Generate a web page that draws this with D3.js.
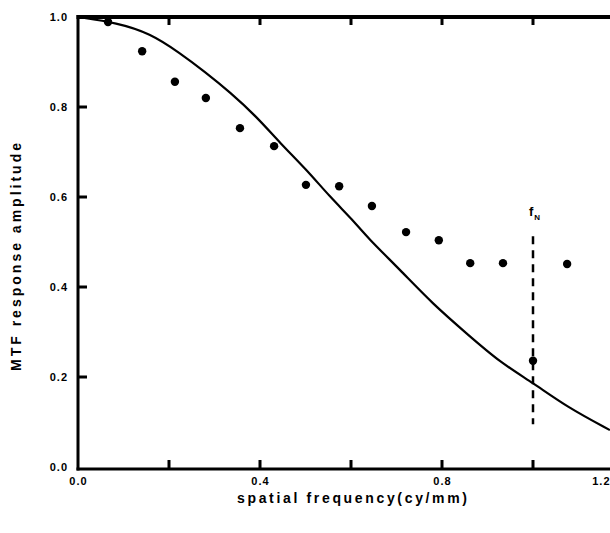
<!DOCTYPE html>
<html>
<head>
<meta charset="utf-8">
<script src="https://cdn.jsdelivr.net/npm/d3@7/dist/d3.min.js"></script>
<style>
  html, body { margin: 0; padding: 0; background: #fff; }
  svg { display: block; }
  text { font-family: "Liberation Sans", Arial, sans-serif; font-weight: bold; fill: #000; }
</style>
</head>
<body>
<svg id="chart" width="610" height="533"></svg>
<script>
// Measured MTF response (dots)
const measuredFreq = [0.066, 0.141, 0.213, 0.281, 0.356, 0.431, 0.501, 0.574, 0.646, 0.721, 0.793, 0.862, 0.934, 1.0, 1.075];
const measuredAmp  = [0.989, 0.924, 0.856, 0.820, 0.753, 0.713, 0.627, 0.624, 0.580, 0.522, 0.504, 0.453, 0.453, 0.236, 0.451];

// Theoretical MTF curve (solid line)
const curveFreq = [0, 0.086, 0.158, 0.224, 0.279, 0.334, 0.393, 0.444, 0.503, 0.554, 0.604, 0.635, 0.708, 0.780, 0.855, 0.927, 1.0, 1.075, 1.169];
const curveAmp  = [1.0, 0.987, 0.964, 0.920, 0.878, 0.833, 0.778, 0.720, 0.660, 0.600, 0.549, 0.511, 0.438, 0.362, 0.296, 0.233, 0.187, 0.133, 0.082];

// Nyquist frequency marker
const nyquistFreq = 1.0;
const nyquistSpan = [0.095, 0.513];

// Axis ticks
const xTicks = [0, 0.2, 0.4, 0.6, 0.8, 1.0, 1.2];
const xTickLabels = ["0.0", "", "0.4", "", "0.8", "", "1.2"];
const yTicks = [0, 0.2, 0.4, 0.6, 0.8, 1.0];
const yTickLabels = ["0.0", "0.2", "0.4", "0.6", "0.8", "1.0"];

const svg = d3.select("#chart");
const m = { left: 78, right: 610, top: 17, bottom: 467 };
const axisY = m.bottom + 2;

const x = d3.scaleLinear().domain([0, 1]).range([m.left, 533]);
const y = d3.scaleLinear().domain([0, 1]).range([m.bottom, m.top]);

// Clip so the curve stops at the page edge
svg.append("defs").append("clipPath").attr("id", "plotClip")
  .append("rect").attr("x", m.left).attr("y", 0).attr("width", m.right - m.left).attr("height", m.bottom + 5);

// Inward tick marks on bottom, top and left, drawn as small rectangles
const innerX = xTicks.filter(d => d > 0 && x(d) < m.right);
const innerY = yTicks.filter(d => d > 0 && d < 1);
svg.selectAll("rect.xb").data(innerX).join("rect").attr("class", "xb")
  .attr("x", d => x(d) - 1.5).attr("y", axisY - 9).attr("width", 3).attr("height", 9).attr("fill", "#000");
svg.selectAll("rect.xt").data(innerX).join("rect").attr("class", "xt")
  .attr("x", d => x(d) - 1.5).attr("y", m.top).attr("width", 3).attr("height", 8).attr("fill", "#000");
svg.selectAll("rect.yl").data(innerY).join("rect").attr("class", "yl")
  .attr("x", m.left).attr("y", d => y(d) - 1.5).attr("width", 9).attr("height", 3).attr("fill", "#000");

// Axes frame: left, bottom and top lines
svg.append("rect").attr("x", m.left - 1.5).attr("y", m.top - 2).attr("width", 3).attr("height", axisY - m.top + 3.5).attr("fill", "#000");
svg.append("rect").attr("x", m.left - 1.5).attr("y", axisY - 1.5).attr("width", m.right - m.left + 1.5).attr("height", 3).attr("fill", "#000");
svg.append("rect").attr("x", m.left - 1.5).attr("y", m.top - 2).attr("width", m.right - m.left + 1.5).attr("height", 4).attr("fill", "#000");

// Tick labels
const xAxisBottom = d3.axisBottom(x).tickValues(xTicks).tickSize(0).tickPadding(8)
  .tickFormat((d, i) => xTickLabels[i]);
const gxb = svg.append("g").attr("transform", `translate(0,${axisY})`).call(xAxisBottom);
gxb.select(".domain").remove();
gxb.selectAll(".tick line").remove();
gxb.selectAll(".tick text").attr("font-size", 11).attr("letter-spacing", 1)
  .style("font-family", "'Liberation Sans', Arial, sans-serif").style("font-weight", "bold");
// the last label sits at the page edge; keep it on the page
gxb.selectAll(".tick text").filter(d => d === 1.2).attr("text-anchor", "end").attr("x", m.right - x(1.2));

const yAxis = d3.axisLeft(y).tickValues(yTicks).tickSize(0).tickPadding(10)
  .tickFormat((d, i) => yTickLabels[i]);
const gy = svg.append("g").attr("transform", `translate(${m.left},0)`).call(yAxis);
gy.select(".domain").remove();
gy.selectAll(".tick line").remove();
gy.selectAll(".tick text").attr("font-size", 11).attr("letter-spacing", 1)
  .style("font-family", "'Liberation Sans', Arial, sans-serif").style("font-weight", "bold");

// Theoretical curve
const line = d3.line().x(d => x(d[0])).y(d => y(d[1])).curve(d3.curveBasis);
svg.append("path")
  .datum(d3.zip(curveFreq, curveAmp))
  .attr("clip-path", "url(#plotClip)")
  .attr("d", line)
  .attr("fill", "none").attr("stroke", "#000").attr("stroke-width", 2.2);

// Nyquist dashed line
svg.append("line")
  .attr("x1", x(nyquistFreq)).attr("x2", x(nyquistFreq))
  .attr("y1", y(nyquistSpan[1])).attr("y2", y(nyquistSpan[0]))
  .attr("stroke", "#000").attr("stroke-width", 2.5).attr("stroke-dasharray", "8,6");

const fLabel = svg.append("text")
  .attr("x", x(nyquistFreq) - 4).attr("y", y(nyquistSpan[1]) - 20)
  .attr("font-size", 13);
fLabel.append("tspan").text("f");
fLabel.append("tspan").attr("font-size", 8).attr("dy", 4).attr("dx", 1).text("N");

// Measured points
svg.selectAll("circle.meas")
  .data(d3.zip(measuredFreq, measuredAmp))
  .join("circle").attr("class", "meas")
  .attr("cx", d => x(d[0])).attr("cy", d => y(d[1])).attr("r", 4.2)
  .attr("fill", "#000");

// Axis titles
svg.append("text")
  .attr("transform", `translate(21,${(m.top + m.bottom) / 2 + 15}) rotate(-90)`)
  .attr("text-anchor", "middle").attr("font-size", 14)
  .attr("textLength", 228).attr("lengthAdjust", "spacing")
  .text("MTF response amplitude");

svg.append("text")
  .attr("x", 352).attr("y", 503)
  .attr("text-anchor", "middle").attr("font-size", 14)
  .attr("textLength", 230).attr("lengthAdjust", "spacing")
  .text("spatial frequency(cy/mm)");
</script>
</body>
</html>
